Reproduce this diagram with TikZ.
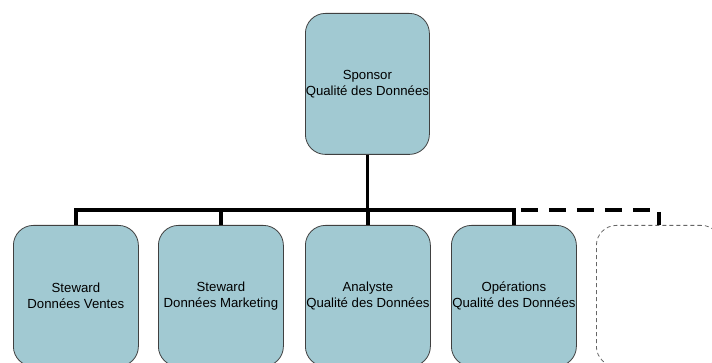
\documentclass[tikz,border=0pt]{standalone}
\usepackage{fontspec}
\setmainfont{Liberation Sans}
\definecolor{boxblue}{RGB}{161,201,210}
\definecolor{edgegray}{RGB}{64,64,64}
\begin{document}
\begin{tikzpicture}[x=1pt,y=-1pt,
  role/.style={draw=edgegray, fill=boxblue, rounded corners=20pt,
    minimum width=125pt, minimum height=141pt, line width=0.8pt,
    align=center, inner sep=0pt, anchor=north west,
    font=\fontsize{13.2}{16}\selectfont},
  vacant/.style={draw=edgegray!80, dash pattern=on 4pt off 3pt,
    rounded corners=20pt, minimum width=125pt, minimum height=141pt,
    line width=0.8pt, inner sep=0pt, anchor=north west},
  conn/.style={line width=3.5pt, line join=miter, line cap=butt},
  optional/.style={conn, dash pattern=on 17pt off 11pt, dash phase=21pt}]
  \useasboundingbox (0,0) rectangle (712,363);

  % top of the hierarchy
  \node[role, minimum width=124pt] (sponsor) at (305,13) {Sponsor\\Qualité des Données};

  % second level
  \node[role] (s1) at (13,225)  {Steward\\Données Ventes};
  \node[role] (s2) at (158,225) {Steward\\Données Marketing};
  \node[role] (s3) at (305,225) {Analyste\\Qualité des Données};
  \node[role] (s4) at (451,225) {Opérations\\Qualité des Données};
  \node[vacant] (s5) at (596,225) {};

  \coordinate (bus) at (0,210);

  % solid bus and drops
  \draw[conn] (s1.north) -- (s1.north |- bus) -- (s4.north |- bus) -- (s4.north);
  \draw[conn] (sponsor.south) -- (sponsor.south |- bus);
  \draw[conn] (s2.north |- bus) -- (s2.north);
  \draw[conn] (s3.north |- bus) -- (s3.north);

  % optional extension to the open position
  \draw[optional] (s4.north |- bus) -- (s5.north |- bus) -- (s5.north);
\end{tikzpicture}
\end{document}
